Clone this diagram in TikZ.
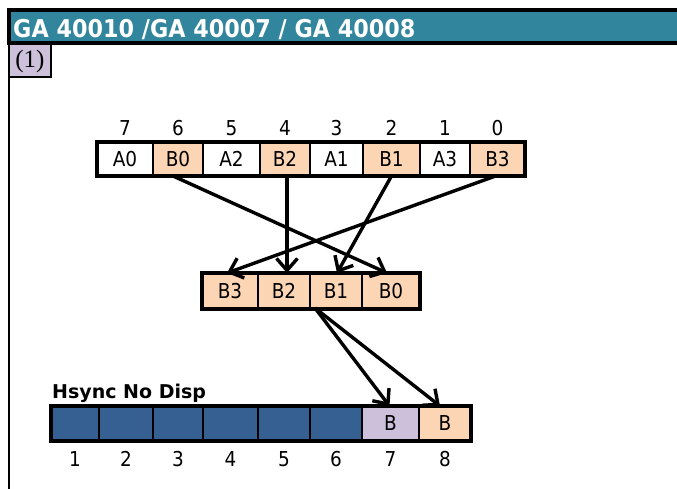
\documentclass[tikz,border=0pt]{standalone}
\usepackage{fontspec}
\usepackage{graphicx}
\setmainfont{DejaVu Sans}
\newfontfamily\tah{DejaVu Sans}[FakeStretch=0.9]
\newfontfamily\numserif{Liberation Serif}
\usetikzlibrary{arrows.meta}
\definecolor{teal}{RGB}{49,133,156}
\definecolor{lav}{RGB}{204,192,218}
\definecolor{peach}{RGB}{252,213,181}
\definecolor{dblue}{RGB}{55,96,146}
\tikzset{
  cellbox/.style={draw=black, line width=2.5pt, inner sep=0pt, outer sep=0pt,
    minimum height=#1, font=\tah\fontsize{20.5}{22}\selectfont},
  cellbox/.default=34pt,
  numlbl/.style={inner sep=0pt, anchor=base, font=\tah\fontsize{20.5}{22}\selectfont},
  arr/.style={line width=3.4pt, -{Straight Barb[length=12pt,width=21pt]}},
  outer/.style={draw=black, line width=3.5pt}
}
\begin{document}
\begin{tikzpicture}[x=1pt,y=-1pt]
\useasboundingbox (0,0) rectangle (677,488);
\clip (0,0) rectangle (677,488);
% title bar
\draw[fill=teal, line width=3.2pt] (9,10) rectangle (690,43);
\node[anchor=base west, text=white, inner sep=0pt,
  font=\fontsize{24.5}{28}\selectfont\bfseries] (title) at (13,37)
  {\scalebox{0.91}[1]{GA 40010 /GA 40007 / GA 40008}};
% left frame line
\draw[line width=2.8pt] (9,43) -- (9,495);
% (1) box
\draw[fill=lav, line width=2.8pt] (9,44) rectangle (51,77);
\node[inner sep=0pt, font=\numserif\fontsize{25}{27}\selectfont] (one) at (30,61) {(1)};

% top register
\node[cellbox, fill=white, minimum width=56pt] (t7) at (125,159) {A0};
\node[cellbox, fill=peach, minimum width=50pt] (t6) at (178,159) {B0};
\node[cellbox, fill=white, minimum width=57pt] (t5) at (231.5,159) {A2};
\node[cellbox, fill=peach, minimum width=50pt] (t4) at (285,159) {B2};
\node[cellbox, fill=white, minimum width=53pt] (t3) at (336.5,159) {A1};
\node[cellbox, fill=peach, minimum width=57pt] (t2) at (391.5,159) {B1};
\node[cellbox, fill=white, minimum width=50pt] (t1) at (445,159) {A3};
\node[cellbox, fill=peach, minimum width=55pt] (t0) at (497.5,159) {B3};
\draw[outer] (t7.north west) rectangle (t0.south east);
\node[numlbl] (n7) at (125,135) {7};
\node[numlbl] (n6) at (178,135) {6};
\node[numlbl] (n5) at (231.5,135) {5};
\node[numlbl] (n4) at (285,135) {4};
\node[numlbl] (n3) at (336.5,135) {3};
\node[numlbl] (n2) at (391.5,135) {2};
\node[numlbl] (n1) at (445,135) {1};
\node[numlbl] (n0) at (497.5,135) {0};

% middle register
\node[cellbox=36pt, fill=peach, minimum width=56pt] (m3) at (230,291) {B3};
\node[cellbox=36pt, fill=peach, minimum width=52pt] (m2) at (284,291) {B2};
\node[cellbox=36pt, fill=peach, minimum width=52pt] (m1) at (336,291) {B1};
\node[cellbox=36pt, fill=peach, minimum width=58pt] (m0) at (391,291) {B0};
\draw[outer] (m3.north west) rectangle (m0.south east);

% bottom register
\node[anchor=base west, inner sep=0pt, font=\fontsize{19}{21}\selectfont\bfseries] (hs) at (52,398) {Hsync No Disp};
\node[cellbox=35pt, fill=dblue, minimum width=48pt] (b1) at (75,423.5) {};
\node[cellbox=35pt, fill=dblue, minimum width=54pt] (b2) at (126,423.5) {};
\node[cellbox=35pt, fill=dblue, minimum width=50pt] (b3) at (178,423.5) {};
\node[cellbox=35pt, fill=dblue, minimum width=55pt] (b4) at (230.5,423.5) {};
\node[cellbox=35pt, fill=dblue, minimum width=52pt] (b5) at (284,423.5) {};
\node[cellbox=35pt, fill=dblue, minimum width=52pt] (b6) at (336,423.5) {};
\node[cellbox=35pt, fill=lav, minimum width=57pt] (b7) at (390.5,423.5) {B};
\node[cellbox=35pt, fill=peach, minimum width=52pt] (b8) at (445,423.5) {B};
\draw[outer] (b1.north west) rectangle (b8.south east);
\node[numlbl] (c1) at (75,466) {1};
\node[numlbl] (c2) at (126,466) {2};
\node[numlbl] (c3) at (178,466) {3};
\node[numlbl] (c4) at (230.5,466) {4};
\node[numlbl] (c5) at (284,466) {5};
\node[numlbl] (c6) at (336,466) {6};
\node[numlbl] (c7) at (390.5,466) {7};
\node[numlbl] (c8) at (445,466) {8};

% arrows
\draw[arr] ([xshift=-5pt]t6.south) -- ([xshift=-4pt]m0.north);
\draw[arr] ([xshift=2pt]t4.south) -- ([xshift=3pt]m2.north);
\draw[arr] (t2.south) -- ([xshift=1pt]m1.north);
\draw[arr] ([xshift=-2pt]t0.south) -- ([xshift=-3pt]m3.north);
\coordinate (src) at ([xshift=5pt,yshift=1pt]m1.south west);
\draw[arr] (src) -- ([xshift=-1pt]b7.north);
\draw[arr] (src) -- ([xshift=-5pt]b8.north);
\end{tikzpicture}
\end{document}
